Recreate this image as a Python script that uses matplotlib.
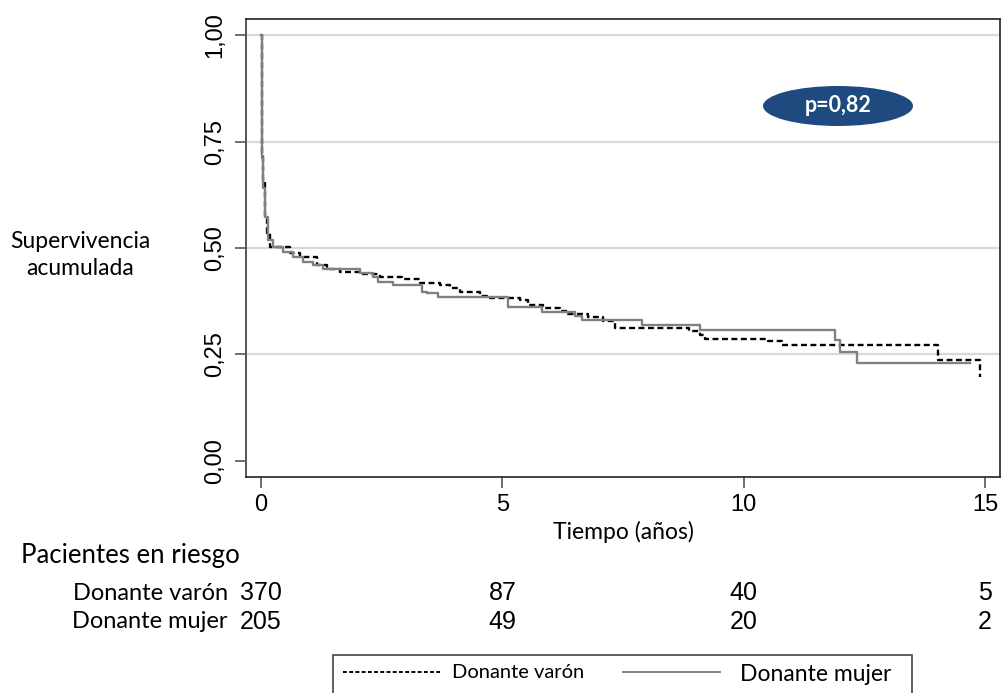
import numpy as np
import matplotlib.pyplot as plt
import matplotlib.transforms as mtransforms
from matplotlib.patches import Ellipse, Rectangle
from matplotlib.lines import Line2D

# Kaplan-Meier steps (years, cumulative survival)
t_varon = [0, 0.02, 0.04, 0.08, 0.12, 0.19, 0.6, 0.81, 1.16, 1.37, 1.64, 2.05, 2.46, 2.92,
           3.29, 3.71, 3.92, 4.12, 4.54, 4.68, 5.37, 5.53, 5.84, 6.19, 6.36, 6.77, 7.08,
           7.33, 8.87, 9.09, 9.2, 10.5, 10.8, 14.02, 14.9]
s_varon = [1.0, 0.72, 0.653, 0.57, 0.535, 0.502, 0.488, 0.479, 0.46, 0.451, 0.444, 0.439,
           0.432, 0.427, 0.418, 0.413, 0.406, 0.397, 0.387, 0.383, 0.378, 0.366, 0.359,
           0.352, 0.345, 0.338, 0.329, 0.312, 0.305, 0.296, 0.286, 0.282, 0.272, 0.237, 0.197]

t_mujer = [0, 0.02, 0.05, 0.08, 0.145, 0.25, 0.45, 0.66, 0.87, 1.08, 1.29, 2.05, 2.32, 2.42,
           2.73, 3.33, 3.44, 3.67, 5.12, 5.82, 6.5, 6.65, 7.89, 9.09, 11.89, 12.0, 12.35, 14.69]
s_mujer = [1.0, 0.711, 0.64, 0.573, 0.519, 0.502, 0.49, 0.479, 0.467, 0.46, 0.451, 0.441,
           0.432, 0.42, 0.413, 0.397, 0.394, 0.385, 0.362, 0.35, 0.34, 0.331, 0.319, 0.308,
           0.284, 0.256, 0.23, 0.23]

# patients at risk
risk_times = [0, 5, 10, 15]
n_varon = [370, 87, 40, 5]
n_mujer = [205, 49, 20, 2]

x_ticks = [0, 5, 10, 15]
y_ticks = [0, 0.25, 0.5, 0.75, 1.0]
y_ticklabels = ["0,00", "0,25", "0,50", "0,75", "1,00"]
p_text = "p=0,82"

W, H = 1004, 693
fig = plt.figure(figsize=(W / 100, H / 100), dpi=100)
ax = fig.add_axes([246 / W, 1 - 477 / H, (1000 - 246) / W, (477 - 19) / H])

for y in y_ticks[1:]:
    ax.axhline(y, color="#d9d9d9", lw=1.6, zorder=0)

ax.step(t_varon, s_varon, where="post", color="black", lw=1.7,
        linestyle=(0, (2.5, 1.5)), zorder=2)
ax.step(t_mujer, s_mujer, where="post", color="#808080", lw=1.7, zorder=3)

ax.set_xlim(-0.31, 15.31)
ax.set_ylim(-0.0376, 1.0376)
ax.set_xticks(x_ticks)
ax.set_xticklabels([str(v) for v in x_ticks], fontsize=17, family="Liberation Sans")
ax.set_yticks(y_ticks)
ax.set_yticklabels(y_ticklabels, fontsize=17, family="Liberation Sans",
                   rotation=90, va="center")
ax.tick_params(axis="both", direction="out", length=8, width=1.2, color="#555555")
ax.tick_params(axis="x", pad=4)
ax.tick_params(axis="y", pad=6)
for side in ["top", "right", "bottom"]:
    ax.spines[side].set_color("#222222")
    ax.spines[side].set_linewidth(1.2)
ax.spines["left"].set_color("#555555")
ax.spines["left"].set_linewidth(1.4)

ax.set_xlabel("Tiempo (años)", fontsize=16.5, family="Lato", labelpad=4)

fig.text(80 / W, 1 - 255 / H, "Supervivencia\nacumulada", ha="center", va="center",
         fontsize=16.5, family="Lato", linespacing=1.35)

# p-value badge
ell = Ellipse((838 / W, 1 - 106 / H), 150 / W, 40 / H, transform=fig.transFigure,
              facecolor="#1f4a80", edgecolor="none")
fig.patches.append(ell)
fig.text(838 / W, 1 - 105 / H, p_text, ha="center", va="center", color="white",
         fontsize=15.5, fontweight="bold", family="Lato")

# risk table
trans = mtransforms.blended_transform_factory(ax.transData, fig.transFigure)
fig.text(240 / W, 1 - 556 / H, "Pacientes en riesgo", ha="right", va="center",
         fontsize=18.5, family="Lato")
fig.text(228 / W, 1 - 593 / H, "Donante varón", ha="right", va="center",
         fontsize=17, family="Lato")
fig.text(228 / W, 1 - 622 / H, "Donante mujer", ha="right", va="center",
         fontsize=17, family="Lato")
for t, a, b in zip(risk_times, n_varon, n_mujer):
    ax.text(t, 1 - 593 / H, str(a), transform=trans, ha="center", va="center",
            fontsize=18, family="Liberation Sans", clip_on=False)
    ax.text(t, 1 - 622 / H, str(b), transform=trans, ha="center", va="center",
            fontsize=18, family="Liberation Sans", clip_on=False)

# legend box (cut at the bottom like the original)
box = Rectangle((333 / W, -0.05), (912 - 333) / W, 0.05 + 38 / H,
                transform=fig.transFigure, facecolor="white", edgecolor="#444444", lw=1.2)
fig.patches.append(box)
yl = 1 - 672 / H
fig.lines.append(Line2D([343 / W, 440 / W], [yl, yl], transform=fig.transFigure,
                        color="black", lw=1.4, linestyle=(0, (2, 1.2))))
fig.text(452 / W, yl, "Donante varón", ha="left", va="center", fontsize=14.5, family="Lato")
fig.lines.append(Line2D([623 / W, 720 / W], [yl, yl], transform=fig.transFigure,
                        color="#808080", lw=1.4))
fig.text(740 / W, yl - 0.004, "Donante mujer", ha="left", va="center", fontsize=16.5,
         family="Lato")

fig.savefig("out.png", dpi=100)
